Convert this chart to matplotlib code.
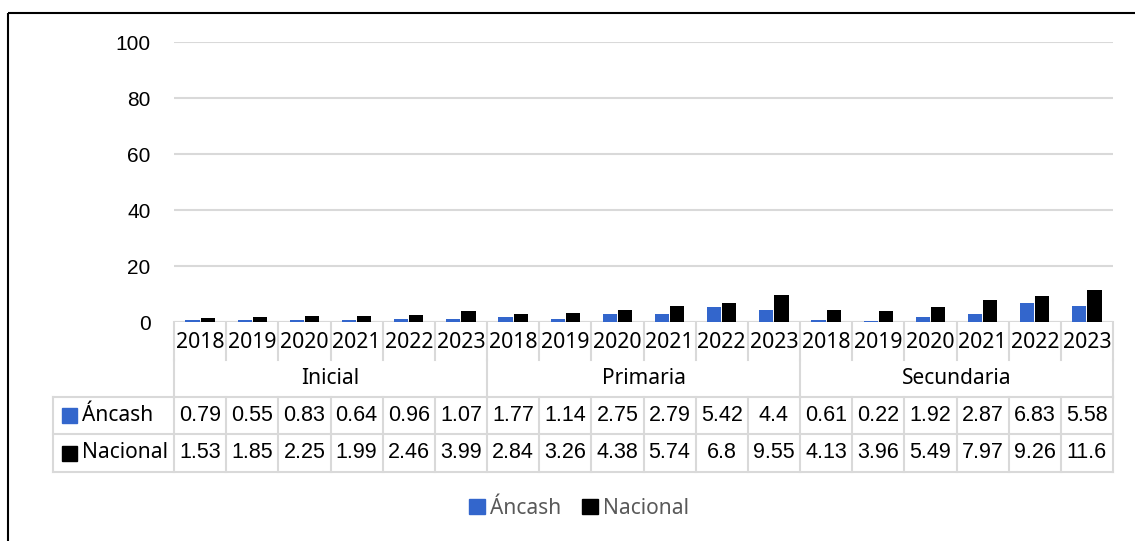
import numpy as np
import matplotlib.pyplot as plt
from matplotlib.patches import Rectangle
from matplotlib.transforms import blended_transform_factory

years = ['2018', '2019', '2020', '2021', '2022', '2023'] * 3
groups = ['Inicial', 'Primaria', 'Secundaria']
series = ['Áncash', 'Nacional']
ancash = [0.79, 0.55, 0.83, 0.64, 0.96, 1.07,
          1.77, 1.14, 2.75, 2.79, 5.42, 4.4,
          0.61, 0.22, 1.92, 2.87, 6.83, 5.58]
nacional = [1.53, 1.85, 2.25, 1.99, 2.46, 3.99,
            2.84, 3.26, 4.38, 5.74, 6.8, 9.55,
            4.13, 3.96, 5.49, 7.97, 9.26, 11.6]
yticks = [0, 20, 40, 60, 80, 100]

W, H = 1135, 541
blue = '#3366cc'
grid = '#d9d9d9'
num_font = 'Liberation Sans'
lab_font = 'Noto Sans'

fig = plt.figure(figsize=(W / 100, H / 100), dpi=100)

# full-figure overlay in pixel coords for the table / border
ov = fig.add_axes([0, 0, 1, 1])
ov.set_xlim(0, W)
ov.set_ylim(H, 0)
ov.axis('off')

x0, x1, y0, y1 = 174, 1113, 322, 42
ax = fig.add_axes([x0 / W, (H - y0) / H, (x1 - x0) / W, (y0 - y1) / H])
n = len(years)
x = np.arange(n)
bw = 0.27
ax.bar(x - 0.145, ancash, bw, color=blue, zorder=3)
ax.bar(x + 0.145, nacional, bw, color='black', zorder=3)
ax.set_xlim(-0.5, n - 0.5)
ax.set_ylim(0, 100)
ax.set_yticks(yticks)
ax.set_yticklabels([str(t) for t in yticks], fontfamily=num_font, fontsize=15)
ax.tick_params(axis='y', length=0, pad=17)
ax.set_xticks([])
ax.grid(axis='y', color=grid, lw=1.5, zorder=0)
for s in ax.spines.values():
    s.set_visible(False)
ax.axhline(0, color=grid, lw=1.5, zorder=2)

tr = blended_transform_factory(ax.transData, ov.transData)
lkw = dict(color=grid, lw=1.5, transform=tr, clip_on=False)

# rows (pixel y)
yr_top, yr_bot = 322, 360
cat_bot = 397
r1_bot = 434
r2_bot = 472

# year row
for i in range(n + 1):
    ov.plot([i - 0.5, i - 0.5], [yr_top, yr_bot], **lkw)
for i, yv in enumerate(years):
    ov.text(i, (yr_top + yr_bot) / 2 + 1, yv, transform=tr, ha='center', va='center',
            fontfamily=lab_font, fontsize=15.3)

# category row
for g in range(len(groups) + 1):
    ov.plot([g * 6 - 0.5, g * 6 - 0.5], [yr_bot, cat_bot], **lkw)
for g, name in enumerate(groups):
    ov.text(g * 6 + 2.5, (yr_bot + cat_bot) / 2, name, transform=tr, ha='center',
            va='center', fontfamily=lab_font, fontsize=15)

# data rows
lab_left = 53
tab_right = 1113
for yy in [cat_bot, r1_bot, r2_bot]:
    ov.plot([lab_left, tab_right], [yy, yy], color=grid, lw=1.5)
ov.plot([lab_left, lab_left], [cat_bot, r2_bot], color=grid, lw=1.5)
for i in range(n + 1):
    ov.plot([i - 0.5, i - 0.5], [cat_bot, r2_bot], **lkw)

rows = [(ancash, blue, (cat_bot + r1_bot) / 2), (nacional, 'black', (r1_bot + r2_bot) / 2)]
for (vals, col, yc), name in zip(rows, series):
    ov.add_patch(Rectangle((62, yc - 7.5), 15, 15, color=col))
    ov.text(82, yc, name, ha='left', va='center', fontfamily=lab_font, fontsize=15)
    for i, v in enumerate(vals):
        ov.text(i, yc, f'{v:g}', transform=tr, ha='center', va='center',
                fontfamily=num_font, fontsize=15.5)

# legend
handles = [Rectangle((0, 0), 1, 1, color=blue), Rectangle((0, 0), 1, 1, color='black')]
leg = fig.legend(handles, series, loc='center', bbox_to_anchor=(579 / W, 1 - 508 / H),
                 ncol=2, frameon=False, handlelength=0.75, handleheight=0.75,
                 handletextpad=0.25, columnspacing=1.0,
                 prop={'family': lab_font, 'size': 15})
for t in leg.get_texts():
    t.set_color('#595959')

# outer border
ov.add_patch(Rectangle((8, 13), W, H, fill=False, ec='black', lw=1.5, clip_on=False))

fig.savefig('out.png', dpi=100)
